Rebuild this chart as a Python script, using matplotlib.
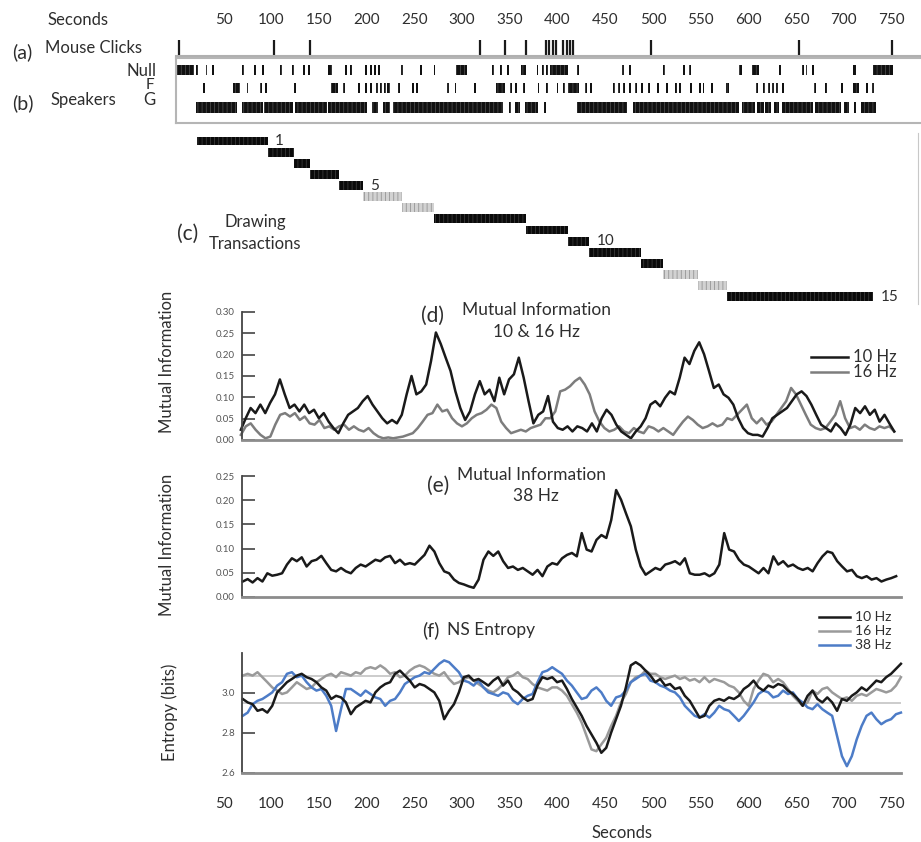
import numpy as np
import matplotlib
matplotlib.use('Agg')
import matplotlib.pyplot as plt
from matplotlib.lines import Line2D

W, H = 921, 842
plt.rcParams['font.family'] = ['Lato', 'DejaVu Sans']
plt.rcParams['hatch.linewidth'] = 0.5

# ---- data (seconds) ----
secTicks = list(range(50, 751, 50))

mouseClicks = [3, 103, 141, 319, 345, 367, 388, 391, 395, 398, 406, 410, 413, 416, 498, 653, 751]

# speaker activity: (start, duration)
nullEvents = [(1, 18), (21, 2), (31, 2), (38, 2), (69, 2), (82, 2), (90, 2), (109, 2), (122, 2),
              (133, 2), (138, 2), (159, 5), (177, 2), (182, 2), (198, 2), (203, 2), (208, 2),
              (212, 2), (236, 2), (256, 2), (270, 2), (294, 11), (331, 2), (340, 2), (347, 2),
              (362, 5), (378, 2), (384, 2), (388, 2), (392, 19), (420, 2), (468, 2), (475, 2),
              (511, 2), (532, 2), (538, 2), (590, 3), (604, 7), (632, 2), (656, 2), (660, 2),
              (667, 2), (710, 3), (731, 21)]
fEvents = [(28, 2), (60, 7), (74, 2), (88, 2), (93, 2), (124, 2), (163, 7), (175, 2), (191, 2),
           (198, 2), (203, 2), (210, 2), (214, 2), (218, 2), (221, 3), (233, 2), (247, 2),
           (252, 2), (284, 2), (292, 2), (312, 2), (336, 9), (350, 2), (355, 2), (364, 2),
           (379, 2), (388, 2), (399, 2), (406, 2), (411, 11), (429, 2), (434, 2), (458, 2),
           (463, 2), (469, 2), (475, 2), (481, 2), (488, 2), (495, 2), (504, 2), (514, 2),
           (523, 2), (527, 2), (539, 2), (548, 2), (552, 2), (561, 2), (577, 3), (608, 2),
           (615, 2), (621, 2), (625, 2), (629, 2), (635, 2), (669, 2), (680, 2), (697, 2),
           (710, 6), (723, 2), (730, 2)]
gEvents = [(21, 43), (69, 22), (92, 31), (125, 33), (159, 41), (205, 7), (217, 7), (227, 116),
           (349, 2), (355, 6), (366, 13), (386, 2), (420, 53), (479, 111), (593, 14), (609, 7),
           (618, 6), (627, 5), (635, 33), (670, 27), (700, 6), (711, 2), (718, 16)]

# drawing transactions
transStart = [22, 96, 124, 141, 171, 196, 237, 271, 367, 411, 433, 488, 511, 547, 578]
transEnd = [96, 124, 141, 171, 196, 237, 271, 367, 411, 433, 488, 511, 547, 578, 731]
transGrey = [6, 7, 13, 14]
transLabeled = [1, 5, 10, 15]

# (d) mutual information 10 & 16 Hz
mi10 = [0.024, 0.051, 0.075, 0.063, 0.083, 0.063, 0.087, 0.107, 0.142, 0.107,
        0.075, 0.083, 0.067, 0.083, 0.063, 0.071, 0.051, 0.063, 0.043, 0.028,
        0.016, 0.039, 0.059, 0.067, 0.075, 0.091, 0.103, 0.083, 0.067, 0.051,
        0.039, 0.047, 0.039, 0.059, 0.107, 0.150, 0.107, 0.114, 0.130, 0.185,
        0.252, 0.225, 0.193, 0.162, 0.114, 0.075, 0.047, 0.067, 0.107, 0.138,
        0.107, 0.118, 0.091, 0.146, 0.107, 0.142, 0.154, 0.193, 0.146, 0.091,
        0.039, 0.059, 0.067, 0.103, 0.043, 0.028, 0.024, 0.032, 0.020, 0.032,
        0.028, 0.020, 0.039, 0.020, 0.051, 0.071, 0.059, 0.036, 0.020, 0.012,
        0.004, 0.020, 0.032, 0.051, 0.083, 0.091, 0.079, 0.099, 0.114, 0.107,
        0.146, 0.193, 0.178, 0.209, 0.229, 0.201, 0.162, 0.122, 0.130, 0.107,
        0.099, 0.083, 0.051, 0.028, 0.016, 0.012, 0.012, 0.008, 0.028, 0.051,
        0.059, 0.067, 0.075, 0.091, 0.107, 0.114, 0.103, 0.083, 0.059, 0.036,
        0.028, 0.020, 0.039, 0.028, 0.012, 0.036, 0.075, 0.063, 0.079, 0.059,
        0.071, 0.043, 0.059, 0.039, 0.020]
mi16 = [0.012, 0.032, 0.039, 0.024, 0.012, 0.004, 0.008, 0.036, 0.059, 0.063,
        0.055, 0.063, 0.047, 0.055, 0.039, 0.036, 0.047, 0.028, 0.032, 0.024,
        0.032, 0.036, 0.024, 0.032, 0.024, 0.020, 0.028, 0.016, 0.008, 0.004,
        0.006, 0.004, 0.006, 0.008, 0.012, 0.016, 0.028, 0.043, 0.059, 0.063,
        0.083, 0.067, 0.071, 0.051, 0.039, 0.032, 0.039, 0.051, 0.059, 0.063,
        0.071, 0.083, 0.075, 0.043, 0.028, 0.016, 0.020, 0.024, 0.020, 0.028,
        0.032, 0.036, 0.051, 0.051, 0.067, 0.114, 0.118, 0.126, 0.138, 0.146,
        0.130, 0.107, 0.067, 0.043, 0.028, 0.020, 0.024, 0.032, 0.020, 0.016,
        0.028, 0.020, 0.016, 0.032, 0.028, 0.020, 0.028, 0.020, 0.012, 0.028,
        0.043, 0.055, 0.047, 0.036, 0.028, 0.032, 0.039, 0.032, 0.036, 0.051,
        0.047, 0.059, 0.071, 0.083, 0.051, 0.039, 0.051, 0.036, 0.043, 0.059,
        0.075, 0.091, 0.122, 0.107, 0.083, 0.059, 0.036, 0.028, 0.024, 0.028,
        0.043, 0.059, 0.091, 0.051, 0.028, 0.032, 0.024, 0.036, 0.028, 0.024,
        0.032, 0.028, 0.032, 0.020]

# (e) mutual information 38 Hz
mi38 = [0.032, 0.037, 0.030, 0.039, 0.032, 0.049, 0.044, 0.046, 0.049, 0.067,
        0.080, 0.074, 0.082, 0.063, 0.074, 0.077, 0.085, 0.070, 0.056, 0.053,
        0.060, 0.053, 0.049, 0.060, 0.067, 0.063, 0.070, 0.077, 0.074, 0.082,
        0.085, 0.070, 0.077, 0.067, 0.070, 0.067, 0.077, 0.087, 0.106, 0.094,
        0.070, 0.053, 0.049, 0.036, 0.029, 0.026, 0.022, 0.019, 0.036, 0.077,
        0.094, 0.085, 0.094, 0.074, 0.060, 0.063, 0.056, 0.060, 0.053, 0.046,
        0.056, 0.043, 0.063, 0.070, 0.067, 0.080, 0.087, 0.091, 0.084, 0.132,
        0.098, 0.094, 0.118, 0.128, 0.122, 0.159, 0.221, 0.201, 0.173, 0.146,
        0.098, 0.063, 0.046, 0.053, 0.060, 0.056, 0.067, 0.070, 0.074, 0.067,
        0.080, 0.049, 0.046, 0.046, 0.049, 0.043, 0.049, 0.067, 0.132, 0.098,
        0.094, 0.077, 0.067, 0.063, 0.056, 0.049, 0.060, 0.049, 0.084, 0.067,
        0.074, 0.063, 0.067, 0.060, 0.056, 0.060, 0.053, 0.070, 0.084, 0.094,
        0.091, 0.074, 0.063, 0.053, 0.056, 0.043, 0.039, 0.043, 0.036, 0.039,
        0.032, 0.036, 0.039, 0.043]

# (f) NS entropy
ent10 = [2.970, 2.953, 2.944, 2.911, 2.919, 2.902, 2.936, 3.003, 3.028, 3.054,
         3.070, 3.087, 3.096, 3.079, 3.070, 3.054, 3.028, 3.012, 2.970, 2.986,
         2.978, 2.953, 2.894, 2.928, 2.944, 2.961, 2.953, 3.003, 3.028, 3.045,
         3.054, 3.096, 3.112, 3.087, 3.062, 3.028, 3.045, 3.037, 3.020, 3.003,
         2.961, 2.869, 2.911, 2.944, 3.003, 3.079, 3.087, 3.062, 3.070, 3.054,
         3.037, 3.062, 3.079, 3.037, 3.062, 3.020, 3.003, 2.978, 2.961, 2.970,
         3.037, 3.079, 3.070, 3.079, 3.054, 3.062, 3.020, 2.970, 2.928, 2.886,
         2.835, 2.793, 2.751, 2.701, 2.726, 2.802, 2.869, 2.936, 3.028, 3.138,
         3.154, 3.138, 3.112, 3.087, 3.054, 3.070, 3.037, 3.045, 3.020, 3.028,
         2.986, 2.961, 2.919, 2.877, 2.886, 2.936, 2.961, 2.970, 2.961, 2.978,
         2.970, 2.986, 3.020, 3.037, 3.062, 3.028, 3.012, 3.037, 3.028, 3.045,
         3.037, 3.012, 2.995, 2.970, 2.936, 2.986, 3.012, 2.970, 2.953, 2.978,
         2.953, 2.911, 2.970, 2.961, 2.986, 3.003, 3.028, 3.012, 3.037, 3.062,
         3.054, 3.079, 3.096, 3.121, 3.146]
ent16 = [3.087, 3.096, 3.087, 3.104, 3.079, 3.054, 3.028, 3.012, 2.995, 3.003,
         3.028, 3.054, 3.037, 3.020, 3.028, 3.054, 3.070, 3.087, 3.096, 3.079,
         3.104, 3.096, 3.087, 3.104, 3.096, 3.121, 3.129, 3.121, 3.138, 3.121,
         3.096, 3.104, 3.079, 3.087, 3.112, 3.129, 3.138, 3.129, 3.112, 3.096,
         3.087, 3.104, 3.070, 3.045, 3.054, 3.070, 3.079, 3.062, 3.045, 3.028,
         3.012, 3.003, 3.020, 3.045, 3.079, 3.087, 3.104, 3.079, 3.070, 3.045,
         3.028, 3.020, 3.012, 3.028, 3.028, 3.012, 2.986, 2.944, 2.902, 2.852,
         2.785, 2.718, 2.709, 2.743, 2.776, 2.835, 2.886, 2.953, 2.995, 3.054,
         3.079, 3.087, 3.112, 3.096, 3.096, 3.079, 3.070, 3.079, 3.087, 3.070,
         3.079, 3.062, 3.070, 3.054, 3.079, 3.054, 3.070, 3.062, 3.054, 3.037,
         3.028, 3.003, 2.961, 2.936, 3.020, 3.062, 3.096, 3.087, 3.054, 3.070,
         3.054, 3.020, 2.986, 2.961, 2.936, 2.953, 3.012, 2.995, 3.020, 3.028,
         3.003, 2.986, 2.970, 2.978, 2.961, 2.986, 2.995, 2.986, 3.003, 3.020,
         3.012, 3.003, 3.012, 3.037, 3.079]
ent38 = [2.886, 2.902, 2.944, 2.961, 2.970, 2.986, 3.003, 3.037, 3.054, 3.096,
         3.104, 3.079, 3.087, 3.054, 3.028, 3.012, 3.020, 2.986, 2.936, 2.810,
         2.919, 3.020, 3.020, 3.003, 2.986, 3.012, 2.995, 2.978, 2.970, 2.936,
         2.961, 2.970, 3.003, 3.045, 3.062, 3.079, 3.087, 3.104, 3.096, 3.121,
         3.146, 3.163, 3.154, 3.129, 3.104, 3.062, 3.054, 3.037, 3.062, 3.028,
         3.003, 2.995, 2.986, 3.003, 2.995, 2.961, 2.944, 2.970, 2.986, 2.995,
         3.054, 3.104, 3.112, 3.129, 3.112, 3.096, 3.062, 3.037, 3.003, 2.970,
         2.978, 3.012, 3.028, 3.003, 2.961, 2.936, 2.978, 2.986, 3.012, 3.054,
         3.070, 3.087, 3.096, 3.062, 3.054, 3.037, 3.028, 3.012, 3.003, 2.978,
         2.936, 2.911, 2.886, 2.877, 2.894, 2.877, 2.902, 2.936, 2.919, 2.911,
         2.886, 2.860, 2.886, 2.919, 2.953, 2.995, 3.012, 3.003, 2.978, 2.986,
         3.012, 2.995, 3.003, 2.970, 2.953, 2.928, 2.919, 2.944, 2.919, 2.902,
         2.886, 2.785, 2.684, 2.634, 2.684, 2.768, 2.835, 2.886, 2.902, 2.869,
         2.844, 2.860, 2.869, 2.894, 2.902]
entRefs = [3.085, 2.95]

tD = np.linspace(68, 753, len(mi10))
tD16 = np.linspace(68, 753, len(mi16))
tE = np.linspace(70, 755, len(mi38))
tF = np.linspace(70, 760, len(ent10))

# ---- figure ----
fig = plt.figure(figsize=(W / 100, H / 100), dpi=100)
xRange = (0, 780)
plotStart, plotEnd = 69, 760
txtCol = '#2e2e2e'
lineW = 1.8


def box(top, bottom):
    # axes rectangle from pixel rows; every panel shares the same time scale
    return [176 / W, 1 - bottom / H, 744 / W, (bottom - top) / H]


def ftext(x, y, s, **kw):
    kw.setdefault('color', txtCol)
    kw.setdefault('va', 'center')
    fig.text(x / W, 1 - y / H, s, **kw)


def flegend(x0, x1, y, col, label, size=12):
    fig.add_artist(Line2D([x0 / W, x1 / W], [1 - y / H, 1 - y / H], color=col, lw=lineW))
    ftext(x1 + 5, y, label, fontsize=size, ha='left')


# (a) mouse clicks
axA = fig.add_axes(box(40, 56))
axA.vlines(mouseClicks, 0.05, 1, color='#1a1a1a', lw=1.6)
axA.set_xlim(xRange)
axA.set_ylim(0, 1)
axA.xaxis.tick_top()
axA.set_xticks(secTicks)
axA.set_xticklabels([str(s) for s in secTicks])
axA.tick_params(axis='x', length=0, pad=9, labelsize=11, labelcolor=txtCol)
axA.set_yticks([])
for sp in ['top', 'left', 'right']:
    axA.spines[sp].set_visible(False)
axA.spines['bottom'].set_color('#b0b0b0')
axA.spines['bottom'].set_linewidth(1.5)

# (b) speakers
axB = fig.add_axes(box(58, 123))
axB.set_xlim(xRange)
axB.set_ylim(1, 0)
rowSpec = [(nullEvents, 0.11, 0.155), (fEvents, 0.385, 0.155), (gEvents, 0.68, 0.17)]
for events, y0, h in rowSpec:
    axB.broken_barh(events, (y0, h), facecolor='#111111', edgecolor='#555555',
                    hatch='||||', linewidth=0)
axB.set_xticks([])
axB.set_yticks([])
axB.spines['right'].set_visible(False)
for sp in ['top', 'left', 'bottom']:
    axB.spines[sp].set_color('#b5b5b5')
    axB.spines[sp].set_linewidth(1.5)

# (c) drawing transactions
axC = fig.add_axes(box(133, 304))
axC.set_xlim(xRange)
nTrans = len(transStart)
axC.set_ylim(nTrans - 0.35, -0.72)
rows = np.arange(nTrans)
starts = np.array(transStart)
ends = np.array(transEnd)
isGrey = np.isin(rows + 1, transGrey)
axC.barh(rows[~isGrey], (ends - starts)[~isGrey], left=starts[~isGrey], height=0.8,
         color='#0a0a0a', edgecolor='#444444', hatch='||||', linewidth=0)
axC.barh(rows[isGrey], (ends - starts)[isGrey], left=starts[isGrey], height=0.8,
         color='#d2d2d2', edgecolor='#8a8a8a', hatch='||||', linewidth=0)
for n in transLabeled:
    axC.text(ends[n - 1] + 8, n - 1, str(n), ha='left', va='center', fontsize=11, color=txtCol)
axC.set_xticks([])
axC.set_yticks([])
for sp in ['top', 'left', 'bottom']:
    axC.spines[sp].set_visible(False)
axC.spines['right'].set_position(('data', 778))
axC.spines['right'].set_color('#c8c8c8')


def styleLine(ax, ylim, yticks, ylabels):
    ax.set_xlim(xRange)
    ax.set_ylim(ylim)
    ax.set_yticks(yticks)
    ax.set_yticklabels(ylabels)
    ax.tick_params(axis='y', direction='in', length=9, width=1.2, color='#444444',
                   labelsize=7, labelcolor='#555555', pad=5)
    for sp in ['top', 'right']:
        ax.spines[sp].set_visible(False)
    ax.spines['left'].set_position(('data', plotStart))
    ax.spines['left'].set_color('#444444')
    ax.spines['left'].set_linewidth(1.3)
    ax.spines['bottom'].set_bounds(plotStart, plotEnd)
    ax.spines['bottom'].set_color('#8c8c8c')
    ax.spines['bottom'].set_linewidth(2)


# (d)
axD = fig.add_axes(box(312, 440))
axD.plot(tD16, mi16, color='#7d7d7d', lw=lineW)
axD.plot(tD, mi10, color='#1a1a1a', lw=lineW)
miTicks = [0, 0.05, 0.10, 0.15, 0.20, 0.25, 0.30]
styleLine(axD, (0, 0.30), miTicks, ['%.2f' % v for v in miTicks])
axD.set_xticks([])

# (e)
axE = fig.add_axes(box(476, 597))
axE.plot(tE, mi38, color='#1a1a1a', lw=lineW)
styleLine(axE, (0, 0.25), miTicks[:6], ['%.2f' % v for v in miTicks[:6]])
axE.set_xticks([])

# (f)
axF = fig.add_axes(box(653, 773))
axF.hlines(entRefs, plotStart, plotEnd, color='#c4c4c4', lw=1.2)
axF.plot(tF, ent16, color='#9a9a9a', lw=lineW)
axF.plot(tF, ent38, color='#4d7cc7', lw=lineW)
axF.plot(tF, ent10, color='#1a1a1a', lw=lineW)
entTicks = [2.6, 2.8, 3.0]
styleLine(axF, (2.6, 3.2), entTicks, ['%.1f' % v for v in entTicks])
axF.set_xticks(secTicks)
axF.set_xticklabels([str(s) for s in secTicks])
axF.tick_params(axis='x', length=0, pad=17, labelsize=11, labelcolor=txtCol)

# ---- labels ----
ftext(78, 20, 'Seconds', fontsize=12, ha='center')
ftext(12, 52, '(a)', fontsize=14, ha='left')
ftext(45, 48, 'Mouse Clicks', fontsize=12, ha='left')
ftext(156, 71, 'Null', fontsize=12, ha='right')
ftext(154, 85, 'F', fontsize=11, ha='right')
ftext(155, 100, 'G', fontsize=12, ha='right')
ftext(12, 103, '(b)', fontsize=14, ha='left')
ftext(50, 100, 'Speakers', fontsize=12, ha='left')

ftext(188, 234, '(c)', fontsize=15, ha='center')
ftext(255, 222, 'Drawing', fontsize=12, ha='center')
ftext(255, 244, 'Transactions', fontsize=12, ha='center')

ftext(432, 316, '(d)', fontsize=15, ha='center')
ftext(462, 310, 'Mutual Information', fontsize=12.5, ha='left')
ftext(536, 332, '10 & 16 Hz', fontsize=12.5, ha='center')
flegend(811, 848, 357, '#1a1a1a', '10 Hz')
flegend(811, 848, 372, '#7d7d7d', '16 Hz')

ftext(438, 486, '(e)', fontsize=15, ha='center')
ftext(457, 475, 'Mutual Information', fontsize=12.5, ha='left')
ftext(536, 496, '38 Hz', fontsize=12.5, ha='center')

ftext(431, 630, '(f)', fontsize=14, ha='center')
ftext(447, 630, 'NS Entropy', fontsize=12.5, ha='left')
flegend(819, 850, 617, '#1a1a1a', '10 Hz', size=10)
flegend(819, 850, 631, '#9a9a9a', '16 Hz', size=10)
flegend(819, 850, 645, '#4d7cc7', '38 Hz', size=10)

ftext(167, 362, 'Mutual Information', fontsize=12, ha='center', rotation=90)
ftext(167, 545, 'Mutual Information', fontsize=12, ha='center', rotation=90)
ftext(170, 712, 'Entropy (bits)', fontsize=12, ha='center', rotation=90)
ftext(622, 833, 'Seconds', fontsize=12, ha='center')

fig.savefig('out.png', dpi=100)
